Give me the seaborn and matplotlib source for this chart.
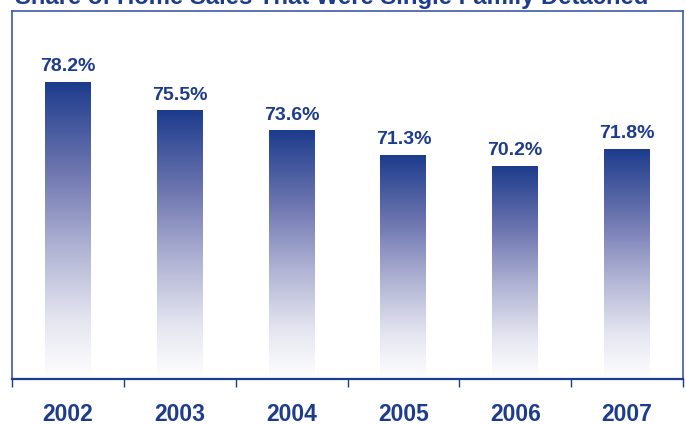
import numpy as np
import pandas as pd
import matplotlib
matplotlib.use("Agg")
import matplotlib.pyplot as plt
from matplotlib.colors import LinearSegmentedColormap
import seaborn as sns

# Share of home sales that were single-family detached, by year
years = ["2002", "2003", "2004", "2005", "2006", "2007"]
shares = [78.2, 75.5, 73.6, 71.3, 70.2, 71.8]

NAVY = "#1d3c8d"
FRAME = "#3d5aa3"

sns.set_theme(style="white")
plt.rcParams["font.family"] = ["Liberation Sans", "DejaVu Sans"]

df = pd.DataFrame({"year": years, "share": shares})

fig = plt.figure(figsize=(6.86, 4.24), dpi=100)
ax = fig.add_axes([12 / 686, 1 - 379 / 424, 671 / 686, 368 / 424])

BASE = 50.0
sns.barplot(data=df, x="year", y="share", ax=ax, width=0.41,
            color=NAVY, saturation=1, bottom=0)

# vertical fade: navy at the top of each bar to white at its base
fade = LinearSegmentedColormap.from_list(
    "fade", [(0.0, "#ffffff"), (0.2, "#e4e5f0"), (0.45, "#aeb1d3"),
             (0.7, "#6e76b0"), (1.0, NAVY)])
grad = np.linspace(0, 1, 256).reshape(-1, 1)

for patch in list(ax.patches):
    x0 = patch.get_x()
    w = patch.get_width()
    top = patch.get_height()
    patch.set_visible(False)
    ax.imshow(grad, cmap=fade, origin="lower", aspect="auto",
              extent=(x0, x0 + w, BASE, top), zorder=2)
    ax.text(x0 + w / 2, top + 0.7, f"{top:.1f}%", ha="center", va="bottom",
            fontsize=14, fontweight="bold", color=NAVY)

ax.set_xlim(-0.5, len(years) - 0.5)
ax.set_ylim(BASE, 85)

ax.set_xlabel("")
ax.set_ylabel("")
ax.set_yticks([])
ax.set_xticks(range(len(years)))
ax.set_xticklabels(years, fontsize=16.5, fontweight="bold", color=NAVY)
ax.tick_params(axis="x", which="major", length=0, pad=17)
ax.set_xticks(np.arange(-0.5, len(years)), minor=True)
ax.tick_params(axis="x", which="minor", direction="out", length=6,
               width=1.0, color=NAVY, bottom=True)

for side in ("left", "top", "right"):
    ax.spines[side].set_color(FRAME)
    ax.spines[side].set_linewidth(1.2)
ax.spines["bottom"].set_color(NAVY)
ax.spines["bottom"].set_linewidth(1.6)

fig.text(15 / 686, 1 - 4 / 424, "Share of Home Sales That Were Single Family Detached",
         ha="left", va="baseline", fontsize=17.2, fontweight="bold", color=NAVY)

fig.savefig("out.png", dpi=100)
